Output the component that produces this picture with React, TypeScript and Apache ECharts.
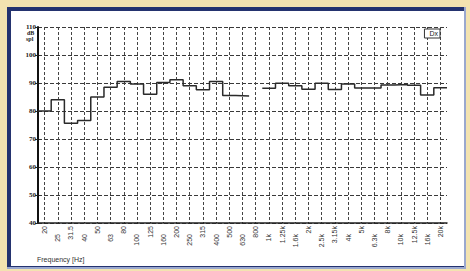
import React, { useEffect, useRef } from "react";
import * as echarts from "echarts";

const FREQS = ["20","25","31.5","40","50","63","80","100","125","160","200","250","315","400","500","630","800","1k","1.25k","1.6k","2k","2.5k","3.15k","4k","5k","6.3k","8k","10k","12.5k","16k","20k"];
const LEVELS: (number | null)[] = [80,84,75.6,76.6,85,88.5,90.5,89.6,86,90.2,91.2,89,87.6,90.5,85.5,85.4,null,88.1,89.9,89,87.8,89.9,87.7,89.6,88.2,88.2,89.3,89.5,89.2,85.7,88.3];
const Y_MIN = 40;
const Y_MAX = 110;
const Y_STEP = 10;
const SERIES_NAME = "Dx";
const X_NAME = "Frequency [Hz]";
const Y_UNIT = ["dB", "spl"];

export default function App() {
  const ref = useRef<HTMLDivElement>(null);
  useEffect(() => {
    if (!ref.current) return;
    const chart = echarts.init(ref.current, undefined, { renderer: "svg" });
    const steps: any[] = [];
    LEVELS.forEach((v, i) => {
      if (v == null) {
        steps.push([i + 0.5, "-"]);
      } else {
        steps.push([i, v]);
        steps.push([i + 1, v]);
      }
    });
    chart.setOption({
      animation: false,
      backgroundColor: "#f3e3b0",
      graphic: [
        { type: "rect", z: 0, shape: { x: 7, y: 7, width: 459, height: 262 }, style: { fill: "#9aa8cf" } },
        { type: "rect", z: 0, shape: { x: 7, y: 7, width: 457, height: 260 }, style: { fill: "#24336f" } },
        { type: "rect", z: 0, shape: { x: 11, y: 11, width: 453, height: 255 }, style: { fill: "#ffffff" } },
        { type: "text", z: 5, left: 27, top: 30, style: { text: Y_UNIT[0], fontSize: 6, fontFamily: "Liberation Serif", fontWeight: "bold", fill: "#222" } },
        { type: "text", z: 5, left: 26, top: 36, style: { text: Y_UNIT[1], fontSize: 6, fontFamily: "Liberation Serif", fontWeight: "bold", fill: "#222" } },
        { type: "text", z: 5, left: 37, top: 256, style: { text: X_NAME, fontSize: 7, fontFamily: "Liberation Sans", fill: "#333" } },
      ],
      legend: {
        data: [SERIES_NAME],
        right: 30,
        top: 29,
        icon: "none",
        itemWidth: 0,
        itemHeight: 0,
        itemGap: 0,
        borderColor: "#333",
        borderWidth: 1,
        padding: [1, 2, 1, 0],
        backgroundColor: "#fff",
        textStyle: { fontSize: 7, color: "#222", fontFamily: "Liberation Sans" },
      },
      grid: { left: 38, right: 23, top: 27, bottom: 48, show: true, borderColor: "#222", borderWidth: 1 },
      xAxis: [
        {
          type: "category",
          data: FREQS,
          boundaryGap: true,
          axisLine: { lineStyle: { color: "#222", width: 1.5 } },
          axisTick: { alignWithLabel: true, length: 3, lineStyle: { color: "#222" } },
          axisLabel: {
            interval: 0,
            rotate: 90,
            margin: 3,
            fontSize: 7,
            color: "#333",
            fontFamily: "Liberation Sans",
            formatter: (v: string, i: number) => (i % 2 ? `{b|${v}}` : `{a|${v}}`),
            rich: {
              a: { fontSize: 7, color: "#333", fontFamily: "Liberation Sans" },
              b: { fontSize: 7, color: "#333", fontFamily: "Liberation Sans", padding: [0, 8, 0, 0] },
            },
          },
          splitLine: { show: true, alignWithLabel: true, lineStyle: { color: "#444", type: [3, 2], width: 1 } },
        },
        { type: "value", min: 0, max: LEVELS.length, show: false },
      ],
      yAxis: {
        type: "value",
        min: Y_MIN,
        max: Y_MAX,
        interval: Y_STEP,
        axisLine: { show: true, lineStyle: { color: "#111", width: 2 } },
        axisTick: { show: true, length: 3, lineStyle: { color: "#222" } },
        axisLabel: { fontSize: 7, margin: 2, color: "#222", fontFamily: "Liberation Serif", fontWeight: "bold" },
        splitLine: { lineStyle: { color: "#3a3a3a", type: [4, 2], width: 1 } },
      },
      series: [
        {
          name: SERIES_NAME,
          type: "line",
          xAxisIndex: 1,
          data: steps,
          symbol: "none",
          lineStyle: { color: "#2a2a2a", width: 1.5 },
          itemStyle: { color: "#2a2a2a" },
        },
      ],
    });
    return () => chart.dispose();
  }, []);
  return <div ref={ref} style={{ position: "fixed", left: 0, top: 0, width: 470, height: 271 }} />;
}
